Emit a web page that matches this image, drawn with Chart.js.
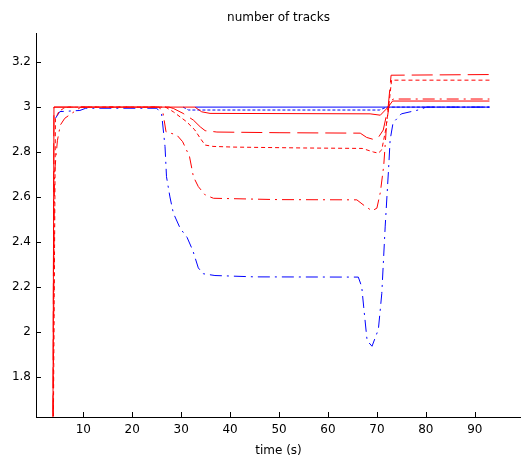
<!DOCTYPE html>
<html>
<head>
<meta charset="utf-8">
<title>number of tracks</title>
<script src="https://cdn.jsdelivr.net/npm/chart.js@4"></script>
<style>
  html, body { margin: 0; padding: 0; background: #fff; }
  #wrap { width: 521px; height: 462px; }
</style>
</head>
<body>
<div id="wrap"><canvas id="tracks"></canvas></div>
<script>
// tick labels
const xTicks = [10, 20, 30, 40, 50, 60, 70, 80, 90];
const yTicks = [1.8, 2, 2.2, 2.4, 2.6, 2.8, 3, 3.2];

// [time (s), tracks] for each run
// (blue runs only where they show from under the red ones)
const redSolid = [[3.7, 1.0], [4.0, 3.0], [32.8, 3.0], [34.2, 2.979], [35.9, 2.972], [68.6, 2.97],
  [70.7, 2.964], [72.3, 3.0], [73.2, 3.027], [93, 3.027]];
const redDash = [[3.7, 1.0], [4.0, 3.0], [27.5, 3.0], [28.4, 2.994], [30.4, 2.972], [32.5, 2.942],
  [33.9, 2.912], [34.9, 2.895], [37.3, 2.889], [50, 2.886], [66.6, 2.884], [67.9, 2.865],
  [69.3, 2.856], [70.3, 2.865], [71.3, 2.898], [72.3, 3.0], [72.9, 3.142], [93, 3.145]];
const redDot = [[3.7, 1.0], [4.3, 2.95], [5.0, 2.98], [6.0, 2.995], [7.0, 3.0], [26.8, 3.0],
  [28.4, 2.979], [31.1, 2.935], [32.8, 2.898], [33.9, 2.861], [34.9, 2.831], [36.5, 2.825],
  [40.6, 2.822], [55, 2.818], [67, 2.816], [69.3, 2.80], [70.3, 2.795], [71.0, 2.81],
  [71.8, 2.9], [72.4, 3.0], [73.0, 3.12], [93, 3.12]];
const redDashDot = [[3.7, 1.0], [4.1, 2.7], [4.7, 2.85], [5.3, 2.92], [6.2, 2.95], [7.5, 2.97],
  [8.5, 2.985], [9.5, 3.0], [25.5, 3.0], [26.3, 2.972], [26.9, 2.89], [29.1, 2.876],
  [30.3, 2.846], [31.7, 2.78], [32.5, 2.69], [33.5, 2.646], [34.9, 2.609], [36.6, 2.594],
  [50, 2.588], [65.9, 2.587], [67.5, 2.56], [69.0, 2.538], [70.0, 2.55], [70.7, 2.62],
  [71.4, 2.74], [72.0, 2.93], [72.5, 3.01], [73.3, 3.036], [93, 3.036]];
const blueSolid = [[32.8, 3.0], [93, 3.0]];
const blueDot = [[30.4, 3.0], [31.5, 2.987], [70.5, 2.987], [72.0, 3.0], [93, 3.0]];
const blueDashDot = [[4.3, 2.95], [5.2, 2.98], [9.3, 2.985], [10.5, 2.995], [25.0, 2.995],
  [26.0, 2.97], [26.7, 2.824], [27.0, 2.69], [27.7, 2.60], [28.4, 2.528], [29.8, 2.46],
  [31.2, 2.42], [32.4, 2.36], [33.5, 2.284], [34.5, 2.258], [36.9, 2.25], [45, 2.244],
  [66.2, 2.243], [66.9, 2.20], [67.3, 2.11], [68.0, 1.96], [69.0, 1.935], [70.3, 2.01],
  [71.0, 2.17], [71.7, 2.47], [72.4, 2.73], [72.7, 2.853], [73.3, 2.93], [75.0, 2.97],
  [77.0, 2.98], [79.0, 2.99], [80, 3.0], [93, 3.0]];

const RED = '#ff0000';
const BLUE = '#0000ff';
const FONT = { family: 'DejaVu Sans', size: 12 };

const toXY = (pts) => pts.map(p => ({ x: p[0], y: p[1] }));

function line(pts, color, dash) {
  return {
    data: toXY(pts),
    borderColor: color,
    borderDash: dash,
    borderWidth: 1,
    pointRadius: 0,
    tension: 0,
    fill: false,
  };
}

// matlab style ticks pointing into the axes, plus the title
const matlabAxes = {
  id: 'matlabAxes',
  afterDraw(chart) {
    const { ctx, chartArea: a, scales: { x, y } } = chart;
    ctx.save();
    ctx.strokeStyle = '#000';
    ctx.lineWidth = 1;
    ctx.beginPath();
    xTicks.forEach(v => {
      const px = Math.round(x.getPixelForValue(v)) + 0.5;
      ctx.moveTo(px, a.bottom);
      ctx.lineTo(px, a.bottom - 5);
    });
    yTicks.forEach(v => {
      const py = Math.round(y.getPixelForValue(v)) + 0.5;
      ctx.moveTo(a.left, py);
      ctx.lineTo(a.left + 5, py);
    });
    ctx.stroke();
    ctx.fillStyle = '#000';
    ctx.font = '12px "DejaVu Sans"';
    ctx.textAlign = 'center';
    ctx.textBaseline = 'middle';
    ctx.fillText('number of tracks', (a.left + a.right) / 2, 18);
    ctx.restore();
  }
};

new Chart(document.getElementById('tracks'), {
  type: 'line',
  data: {
    datasets: [
      line(redSolid, RED, []),
      line(redDash, RED, [21, 7]),
      line(redDot, RED, [4, 3]),
      line(redDashDot, RED, [12, 5, 2, 5]),
      line(blueSolid, BLUE, []),
      line(blueDot, BLUE, [3, 2]),
      line(blueDashDot, BLUE, [12, 5, 2, 5]),
    ]
  },
  options: {
    responsive: true,
    maintainAspectRatio: false,
    animation: false,
    layout: { padding: { top: 33, left: 0, right: 0, bottom: 0 } },
    plugins: {
      legend: { display: false },
      tooltip: { enabled: false },
    },
    scales: {
      x: {
        type: 'linear',
        min: 0.33,
        max: 99.45,
        afterBuildTicks: (s) => { s.ticks = xTicks.map(v => ({ value: v })); },
        afterFit: (s) => { s.height = 45; },
        grid: { display: false, drawTicks: false },
        border: { display: true, color: '#000', width: 1 },
        ticks: { color: '#000', font: FONT, padding: 6, maxRotation: 0, autoSkip: false },
        title: { display: true, text: 'time (s)', color: '#000', font: FONT, padding: { top: 0, bottom: 4 } },
      },
      y: {
        min: 1.62,
        max: 3.33,
        afterBuildTicks: (s) => { s.ticks = yTicks.map(v => ({ value: v })); },
        afterFit: (s) => { s.width = 36; },
        grid: { display: false, drawTicks: false },
        border: { display: true, color: '#000', width: 1 },
        ticks: { color: '#000', font: FONT, padding: 5, callback: (v) => String(v) },
      },
    },
  },
  plugins: [matlabAxes],
});
</script>
</body>
</html>
